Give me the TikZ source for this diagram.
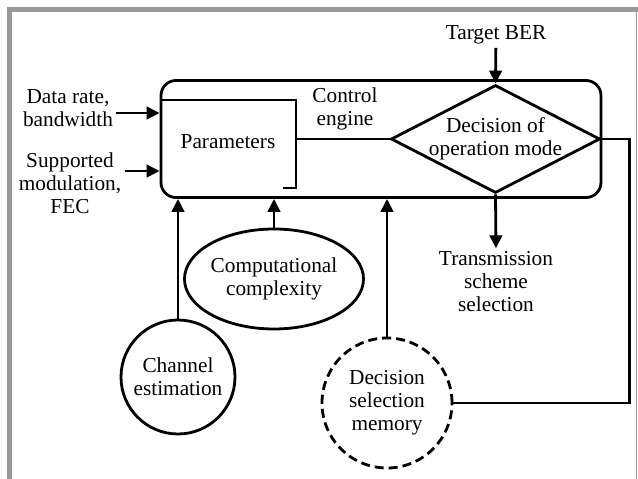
\documentclass[tikz,border=0pt]{standalone}
\usepackage{fontspec}
\setmainfont{Liberation Serif}
\usepackage{tikz}
\usetikzlibrary{positioning, arrows.meta, shapes.geometric}

\begin{document}
\begin{tikzpicture}[
    x=1pt, y=-1pt,
    every node/.style={font=\fontsize{21.3}{23}\selectfont, align=center},
    line/.style={line width=2.8pt},
    arrow/.style={line width=2.8pt, -{Triangle[length=13pt, width=12.5pt]}},
    bubble/.style={circle, draw, line width=2.8pt, inner sep=0pt},
    frame/.style={draw=black!40}
]
    \useasboundingbox (0,0) rectangle (638,479);
    % Page frame
    \draw[frame, line width=5pt] (9.5,479) -- (9.5,9.5) -- (638,9.5);
    \draw[frame, line width=1pt] (636.5,9.5) -- (636.5,479);

    % Control engine
    \node[draw, line width=2.8pt, rounded corners=15pt, minimum width=440pt, minimum height=117pt] (engine) at (381,139) {};
    \node (params) at (228,142) {Parameters};
    \draw[line] (engine.west |- 0,100) -- (296,100) -- (296,188) -- (283,188);
    \node (ctrl) at (345,109) {Control\\engine};
    \node[diamond, draw, line width=2.8pt, aspect=1.94, inner sep=0pt, minimum width=209pt, minimum height=108pt] (mode) at (495.5,139) {};
    \node (modetext) at (mode.center) {Decision of\\operation mode};
    \draw[line] (296,139) -- (mode.west);

    % Inputs and outputs
    \node (ber) at (496,35) {Target BER};
    \node (rate) at (68,108) {Data rate,\\bandwidth};
    \node (modul) at (70,183) {Supported\\modulation,\\FEC};
    \node (scheme) at (496,282) {Transmission\\scheme\\selection};
    \draw[arrow] (ber) -- (mode.north);
    \draw[arrow] ([yshift=-5pt]rate.east) -- ([yshift=-5pt]rate.east -| engine.west);
    \draw[arrow] ([yshift=12pt]modul.east) -- ([yshift=12pt]modul.east -| engine.west);
    \draw[arrow] (mode.south) -- (scheme.north);

    % Side information
    \node[bubble, minimum size=114pt] (chan) at (178,377) {Channel\\estimation};
    \node[ellipse, draw, line width=2.8pt, inner sep=0pt, minimum width=150pt, minimum height=100pt] (compl) at (274,279) {Computational\\complexity};
    \node[bubble, dash pattern=on 9pt off 5pt, minimum size=130pt] (memory) at (387,403) {Decision\\selection\\memory};
    \draw[arrow] (chan.north) -- (chan.north |- engine.south);
    \draw[arrow] (compl.north) -- (compl.north |- engine.south);
    \draw[arrow] (memory.north) -- (memory.north |- engine.south);
    \draw[line] (mode.east) -- ++(28,0) |- (memory.east);

\end{tikzpicture}
\end{document}
